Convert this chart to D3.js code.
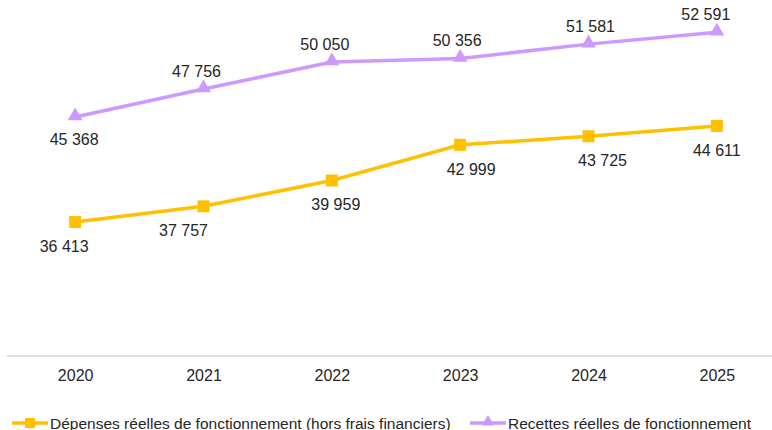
<!DOCTYPE html>
<html>
<head>
<meta charset="utf-8">
<script src="https://cdn.jsdelivr.net/npm/d3@7"></script>
<style>
  body { margin: 0; background: #fff; }
  svg text { font-family: "Liberation Sans Narrow", "Liberation Sans", sans-serif; fill: #262626; }
</style>
</head>
<body>
<div id="chart"></div>
<script>
// valeurs (en milliers d'euros)
var years = ["2020", "2021", "2022", "2023", "2024", "2025"];
var depenses = [36413, 37757, 39959, 42999, 43725, 44611];
var recettes = [45368, 47756, 50050, 50356, 51581, 52591];
var seriesNames = ["Dépenses réelles de fonctionnement (hors frais financiers)", "Recettes réelles de fonctionnement"];

var width = 772, height = 430;
var yellow = "#FFC000", purple = "#CC99FF";

var fr = d3.formatLocale({decimal: ",", thousands: " ", grouping: [3], currency: ["", " €"]});
var fmt = fr.format(",d");

var svg = d3.select("#chart").append("svg")
	.attr("width", width)
	.attr("height", height);

var x = d3.scalePoint()
	.domain(years)
	.range([11, 781])
	.padding(0.5);

var y = d3.scaleLinear()
	.domain([25000, 55000])
	.range([356, 4]);

// axe horizontal
var xAxis = svg.append("g")
	.attr("transform", "translate(0," + y(25000) + ")")
	.call(d3.axisBottom(x).tickSize(0).tickPadding(14));
xAxis.select(".domain").remove();
xAxis.append("line")
	.attr("x1", 7).attr("x2", width)
	.attr("stroke", "#BFBFBF").attr("stroke-width", 1);
xAxis.selectAll(".tick text")
	.style("font-size", "16px")
	.style("font-family", "\"Liberation Sans Narrow\", sans-serif")
	.attr("fill", "#262626");

var line = d3.line()
	.x(function(d, i) { return x(years[i]); })
	.y(function(d) { return y(d); });

var tri = d3.symbol().type(d3.symbolTriangle).size(95);

// décalages des étiquettes (placement manuel comme dans l'original)
var depDx = [-11, -20, 4, 11, 14, 0];
var recDx = [-1, -7, -7, -3, 2, -11];
var recAbove = [false, true, true, true, true, true];

// recettes
svg.append("path")
	.datum(recettes)
	.attr("d", line)
	.attr("fill", "none")
	.attr("stroke", purple)
	.attr("stroke-width", 3.5);
svg.selectAll(".tri")
	.data(recettes)
	.enter().append("path")
	.attr("class", "tri")
	.attr("d", tri)
	.attr("transform", function(d, i) { return "translate(" + x(years[i]) + "," + (y(d) - 1) + ")"; })
	.attr("fill", purple);
svg.selectAll(".lblR")
	.data(recettes)
	.enter().append("text")
	.attr("class", "lblR")
	.attr("x", function(d, i) { return x(years[i]) + recDx[i]; })
	.attr("y", function(d, i) { return recAbove[i] ? y(d) - 12 : y(d) + 28; })
	.attr("text-anchor", "middle")
	.style("font-size", "16px")
	.text(fmt);

// dépenses
svg.append("path")
	.datum(depenses)
	.attr("d", line)
	.attr("fill", "none")
	.attr("stroke", yellow)
	.attr("stroke-width", 3.5);
svg.selectAll(".sq")
	.data(depenses)
	.enter().append("rect")
	.attr("class", "sq")
	.attr("x", function(d, i) { return x(years[i]) - 6; })
	.attr("y", function(d) { return y(d) - 6; })
	.attr("width", 12)
	.attr("height", 12)
	.attr("fill", yellow);
svg.selectAll(".lblD")
	.data(depenses)
	.enter().append("text")
	.attr("class", "lblD")
	.attr("x", function(d, i) { return x(years[i]) + depDx[i]; })
	.attr("y", function(d) { return y(d) + 30; })
	.attr("text-anchor", "middle")
	.style("font-size", "16px")
	.text(fmt);

// légende
var legend = svg.append("g").attr("transform", "translate(0,423)");
var leg = [
	{name: seriesNames[0], color: yellow, x0: 12, shape: "sq"},
	{name: seriesNames[1], color: purple, x0: 470, shape: "tri"}
];
leg.forEach(function(l) {
	var g = legend.append("g").attr("transform", "translate(" + l.x0 + ",0)");
	g.append("line").attr("x1", 0).attr("x2", 36)
		.attr("stroke", l.color).attr("stroke-width", 3.5);
	if (l.shape == "sq") {
		g.append("rect").attr("x", 13).attr("y", -5).attr("width", 10).attr("height", 10).attr("fill", l.color);
	} else {
		g.append("path").attr("d", d3.symbol().type(d3.symbolTriangle).size(65))
			.attr("transform", "translate(18,-1)").attr("fill", l.color);
	}
	g.append("text").attr("x", 38).attr("y", 5.5)
		.style("font-size", "15.5px")
		.text(l.name);
});
</script>
</body>
</html>
